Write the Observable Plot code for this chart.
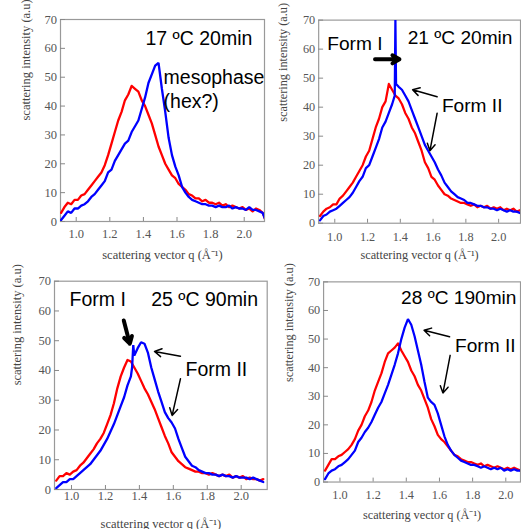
<!DOCTYPE html>
<html><head><meta charset="utf-8">
<script src="https://cdn.jsdelivr.net/npm/d3@7"></script>
<script src="https://cdn.jsdelivr.net/npm/@observablehq/plot@0.6"></script>
<style>
body{margin:0;background:#fff;}
#fig{position:relative;width:521px;height:529px;overflow:hidden;background:#fff;}
.panel{position:absolute;}
.panel svg{overflow:visible;}
</style></head><body><div id="fig"></div>
<script>
// scattering vector q grid (Å^-1)
const qGrid = [0.91,0.93,0.95,0.97,0.99,1.01,1.03,1.05,1.07,1.09,
  1.11,1.13,1.15,1.17,1.19,1.21,1.23,1.25,1.27,1.29,
  1.31,1.33,1.35,1.37,1.39,1.41,1.43,1.45,1.47,1.49,
  1.51,1.53,1.55,1.57,1.59,1.61,1.63,1.65,1.67,1.69,
  1.71,1.73,1.75,1.77,1.79,1.81,1.83,1.85,1.87,1.89,
  1.91,1.93,1.95,1.97,1.99,2.01,2.03,2.05,2.07,2.09,
  2.11,2.13];

// 17 ºC 20min
const red17 = [3,5,6.5,6,7.5,7.5,9,9.5,11,12.5,
  14,15.5,17,19.5,23,27,31,35,38,42,
  44,47,46,45,42,40,37,34,30,26,
  23,20,18,16,15,13,12,11,9.5,9,
  8,8,7,7.5,6.5,6.5,6,6.5,5.5,6,
  5,5.5,5,4.5,5,4,4.5,3.5,4.5,4,
  3,0];
const blue17 = [0.5,2,3.5,3,4.5,4.5,5.5,6,7,8.5,
  9.5,11,12.5,14,17,18,21,23,25,27,
  28,31,33,35,39,43,48,51,54,55,
  46,38,29,23,19,16,12,10,8.5,7.5,
  7,6.5,6,6,5.5,5.5,5,5.5,5,5,
  5.5,4.5,5,4.5,4.5,4,5,4,4,3.5,
  3,0];

// 21 ºC 20min
const red21 = [2.5,4,5,5.5,6.5,6.5,8.5,9.5,11,12.5,
  14,16,18,20,23,25,29,33,36,40,
  42,48,46,44,43,41,38,36,33,31,
  28,25,21,19,16,15,13,11.5,10,9.5,
  8.5,8,7.5,7,7,6.5,6,6.5,5.5,6,
  5.5,6,5,5.5,5,5.5,4.5,5,4.5,5,
  4,4.5];
const blue21 = [1,2.5,3,4,4.5,5,6,7,8,9,
  10.5,12.5,14.5,16,19,20,23,26,29,33,
  35,38,41,70,47,46,44,42,39,36,
  33,30,27,25,23,21,18.5,16.5,14,12.5,
  11,10,9,8.5,8,7,7,6.5,6,6,
  5.5,5.5,5,5,4.5,5,4.5,4,4.5,4,
  4,3.5];
const spikeQ21 = [1.366,1.374];
const spikeI21 = [44,48];

// 25 ºC 90min
const red25 = [3,4.5,4.5,5.5,5,6,6.5,8,9,10.5,
  12,13.5,15.5,17,19,22,25,29,34,38,
  41,43.5,43,41,39,36.5,34,32,29.5,27,
  24,21,18,15.5,12.5,11,9.5,8.5,7.5,7,
  6.5,6,6,5.5,5.5,5,5.5,5,4.5,5,
  4.5,5,4,4.5,4,4.5,3.5,4,3.5,3.5,
  3,3.5];
const blue25 = [0.5,1.5,2.5,2.5,3.5,3.5,4.5,5.5,6.5,7.5,
  8.5,10,11.5,13,15,17,19.5,22,25,28,
  31,35,38,45,47.5,49.5,49,46,41,37,
  33,29.5,26,24,22.5,20.5,17,14,11,9.5,
  8,7.5,6.5,6,5.5,5.5,5,5,4.5,5,
  4.5,4.5,4,4.5,4,4,4,3.5,4,3.5,
  3,2.5];
const spikeQ25 = [1.357,1.364];
const spikeI25 = [41,48.5];

// 28 ºC 190min
const red28 = [4,6,8,8,9,9.5,10.5,11.5,13,15,
  18,20,23,25,28,32,35,38,42,45,
  46,47,48.5,46,44,42,39,37,34,32,
  29,26,22,19.5,16.5,15,14,12.5,11,9.5,
  9,8,7.5,7,7,6.5,6,6.5,5.5,6,
  5.5,5,5.5,5,4.5,5,4.5,5,4.5,4,
  4.5,4];
const blue28 = [1,3,4,4.5,5.5,6,7,8,9.5,11,
  14,15.5,17.5,19,21,23.5,26,28,31,34,
  37.5,41,45,50,54,57,55,51,46,41,
  35,29.5,28,27,24,20,16,13,11,9.5,
  8.5,7.5,7,6.5,6,6,5.5,5,5.5,5,
  4.5,5,4.5,5,4,4.5,4,4.5,4,4,
  3.5,4];

const xTicks = [1.0,1.2,1.4,1.6,1.8,2.0];
const yTicks = [0,10,20,30,40,50,60,70];
const xTitle = "scattering vector q (Å\u207B\u00B9)";
const yTitle = "scattering intensity (a.u)";

// annotations (q, intensity of text baseline start / arrow ends)
const notes17 = [
  {text:"17 ºC 20min", q:1.4125, v:61.0},
  {text:"mesophase", q:1.52, v:47.5},
  {text:"(hex?)", q:1.52, v:39.5}];
const notes21 = [
  {text:"Form I", q:0.954, v:59.6},
  {text:"21 ºC 20min", q:1.445, v:61.6},
  {text:"Form II", q:1.654, v:38.4}];
const notes25 = [
  {text:"Form I", q:0.988, v:61.8},
  {text:"25 ºC 90min", q:1.4697, v:61.8},
  {text:"Form II", q:1.672, v:38.0}];
const notes28 = [
  {text:"28 ºC 190min", q:1.3686, v:62.2},
  {text:"Form II", q:1.694, v:45.4}];

const bold21 = [{q1:1.2455, v1:56.5, q2:1.395, v2:56.5}];
const thin21 = [{q1:1.6246, v1:43.6, q2:1.4749, v2:46.0},{q1:1.6246, v1:37.9, q2:1.5808, v2:25.0}];
const bold25 = [{q1:1.308, v1:56.8, q2:1.3435, v2:49.0}];
const thin25 = [{q1:1.642, v1:44.8, q2:1.489, v2:46.4},{q1:1.642, v1:37.2, q2:1.593, v2:24.9}];
const thin28 = [{q1:1.661, v1:50.8, q2:1.507, v2:53.1},{q1:1.6645, v1:44.3, q2:1.621, v2:31.1}];

function series(qs, vs){ return qs.map((q,i)=>({q, v:vs[i]})); }
function withExtras(base, eq, ev){ return base.concat(series(eq, ev)).sort((a,b)=>a.q-b.q); }

const panels = [
  {left:0, top:0, width:268, height:266, mL:60, mR:4, mT:19, mB:45, xd:[0.9065,2.1208],
   red:series(qGrid,red17), blue:series(qGrid,blue17), pad:8, tdy:37, ydx:-35, notes:notes17, bold:[], thin:[]},
  {left:260, top:0, width:266, height:266, mL:59.3, mR:1, mT:20, mB:39, xd:[0.9018,2.1335],
   red:series(qGrid,red21), blue:withExtras(series(qGrid,blue21),spikeQ21,spikeI21), pad:9, tdy:36.5, ydx:-36.6, notes:notes21, bold:bold21, thin:thin21},
  {left:0, top:265, width:270, height:264, mL:54, mR:3.3, mT:15.7, mB:40, xd:[0.8998,2.1532],
   red:series(qGrid,red25), blue:withExtras(series(qGrid,blue25),spikeQ25,spikeI25), pad:2, tdy:38, ydx:-38, notes:notes25, bold:bold25, thin:thin25},
  {left:260, top:265, width:266, height:264, mL:64.3, mR:1, mT:16.7, mB:43.3, xd:[0.9012,2.0888],
   red:series(qGrid,red28), blue:series(qGrid,blue28), pad:8.5, tdy:38, ydx:-35, notes:notes28, bold:[], thin:thin28}
];

const fig = document.getElementById("fig");
for (const p of panels) {
  const innerW = p.width - p.mL - p.mR;
  const innerH = p.height - p.mT - p.mB;
  const chart = Plot.plot({
    width: p.width, height: p.height,
    marginLeft: p.mL, marginRight: p.mR, marginTop: p.mT, marginBottom: p.mB,
    style: {fontFamily: "'Liberation Serif', 'Times New Roman', serif", fontSize: "12.5px", color: "#555", background: "transparent", overflow: "visible"},
    x: {domain: p.xd, ticks: xTicks, tickSize: 0, tickPadding: p.pad, tickFormat: d => d.toFixed(1), label: null},
    y: {domain: [0,70], ticks: yTicks, tickSize: 0, tickPadding: 3.5, label: null},
    marks: [
      Plot.frame({stroke: "#999", strokeWidth: 1.2}),
      Plot.ruleX(xTicks, {x: d => d, stroke: "#888", insetTop: innerH - 4}),
      Plot.ruleY(yTicks, {y: d => d, stroke: "#888", insetRight: innerW - 5}),
      Plot.line(p.red, {x: "q", y: "v", stroke: "#ff0000", strokeWidth: 2.3, clip: true}),
      Plot.line(p.blue, {x: "q", y: "v", stroke: "#0000ff", strokeWidth: 2.3, strokeLinejoin: "bevel", clip: true}),
      Plot.text([xTitle], {text: d => d, frameAnchor: "bottom", dy: p.tdy, lineAnchor: "bottom", fill: "#444", fontSize: 12.5}),
      Plot.text([yTitle], {text: d => d, frameAnchor: "left", dx: p.ydx, rotate: -90, fill: "#444", fontSize: 12.5}),
      Plot.text(p.notes, {x: "q", y: "v", text: "text", textAnchor: "start", lineAnchor: "bottom", fontFamily: "'Liberation Sans', Arial, sans-serif", fontSize: 19.5, fill: "#000"}),
      Plot.arrow(p.bold, {x1: "q1", y1: "v1", x2: "q2", y2: "v2", stroke: "#000", strokeWidth: 4, headLength: 6}),
      Plot.arrow(p.thin, {x1: "q1", y1: "v1", x2: "q2", y2: "v2", stroke: "#000", strokeWidth: 1.5, headLength: 8})
    ]
  });
  const wrap = document.createElement("div");
  wrap.className = "panel";
  wrap.style.left = p.left + "px";
  wrap.style.top = p.top + "px";
  wrap.appendChild(chart);
  fig.appendChild(wrap);
}
</script></body></html>
